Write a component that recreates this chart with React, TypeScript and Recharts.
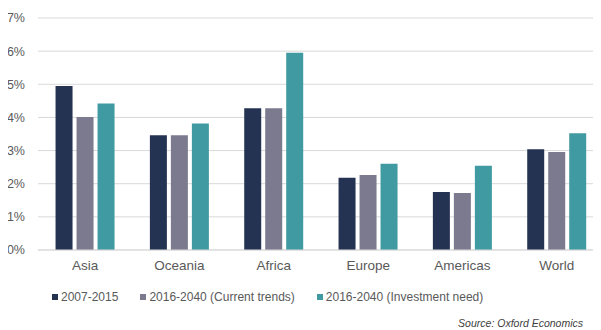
import { Bar, BarChart, CartesianGrid, XAxis, YAxis } from "recharts";

const regions = ["Asia", "Oceania", "Africa", "Europe", "Americas", "World"];
const past = [4.95, 3.46, 4.28, 2.18, 1.75, 3.04];
const currentTrends = [4.01, 3.46, 4.28, 2.26, 1.72, 2.96];
const investmentNeed = [4.42, 3.82, 5.95, 2.6, 2.54, 3.52];
const yTicks = [0, 1, 2, 3, 4, 5, 6, 7];

const seriesInfo = [
  { key: "past", name: "2007-2015", color: "#253353" },
  { key: "current", name: "2016-2040 (Current trends)", color: "#7b7a8e" },
  { key: "need", name: "2016-2040 (Investment need)", color: "#3f9aa2" },
];

const data = regions.map((region, i) => ({
  region,
  past: past[i],
  current: currentTrends[i],
  need: investmentNeed[i],
}));

const FONT = "'Liberation Sans', Arial, sans-serif";
const TEXT = "#595959";

export default function App() {
  // 338 tall with -8 margins so the page itself ends up exactly 330 high
  return (
    <div style={{ position: "relative", margin: -8, width: 601, height: 338, overflow: "hidden", background: "#fff" }}>
      <BarChart
        width={604}
        height={330}
        data={data}
        margin={{ top: 18, right: 0, left: 0, bottom: 50 }}
        barCategoryGap="18.6%"
        barGap={4}
      >
        <CartesianGrid stroke="#d9d9d9" strokeWidth={1} vertical={false} />
        <XAxis
          dataKey="region"
          height={30}
          axisLine={{ stroke: "#d9d9d9" }}
          tickLine={false}
          tickSize={0}
          tickMargin={10}
          tick={{ fontSize: 13.5, fill: TEXT, fontFamily: FONT }}
        />
        <YAxis
          width={38}
          domain={[0, 7]}
          ticks={yTicks}
          axisLine={false}
          tickLine={false}
          tickSize={0}
          tickMargin={13}
          tickFormatter={(v) => `${v}%`}
          tick={{ fontSize: 12.5, fill: TEXT, fontFamily: FONT }}
        />
        {seriesInfo.map((s) => (
          <Bar key={s.key} dataKey={s.key} name={s.name} fill={s.color} isAnimationActive={false} />
        ))}
      </BarChart>
      {/* legend row */}
      <div
        style={{
          position: "absolute",
          left: 52,
          top: 290,
          display: "flex",
          alignItems: "center",
          fontFamily: FONT,
          fontSize: 12,
          color: TEXT,
          lineHeight: "14px",
        }}
      >
        {seriesInfo.map((s) => (
          <div key={s.key} style={{ display: "flex", alignItems: "center", marginRight: 22 }}>
            <span style={{ width: 6, height: 6, background: s.color, display: "inline-block", marginRight: 3 }} />
            <span>{s.name}</span>
          </div>
        ))}
      </div>
      <div
        style={{
          position: "absolute",
          right: 18,
          top: 317,
          fontFamily: FONT,
          fontSize: 10.5,
          fontStyle: "italic",
          color: "#404040",
          lineHeight: "12px",
        }}
      >
        Source: Oxford Economics
      </div>
    </div>
  );
}
